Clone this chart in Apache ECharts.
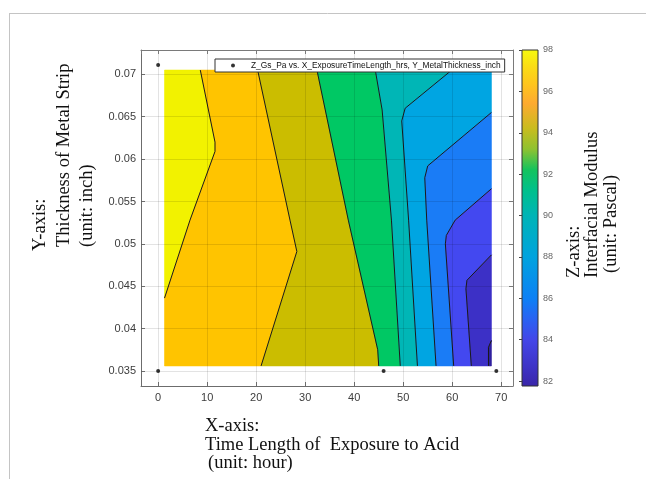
<!DOCTYPE html>
<html><head><meta charset="utf-8">
<script src="https://cdn.jsdelivr.net/npm/echarts@6/dist/echarts.min.js"></script>
<style>html,body{margin:0;padding:0;background:#fff}#c{width:646px;height:479px}</style>
</head><body><div id="c"></div>
<script>
// ---------- data ----------
const seriesName = 'Z_Gs_Pa vs. X_ExposureTimeLength_hrs, Y_MetalThickness_inch';
const sampleX = [0, 0, 46, 69];
const sampleY = [0.0711, 0.035, 0.035, 0.035];

// extent of the filled contour region
const regionX = [1.3, 68];
const regionY = [0.0356, 0.0705];

// contour lines [x (hour), y (inch)], from high Z (left) to low Z (right)
const contour1 = [[8.6,0.0705],[11.6,0.0620],[11.6,0.0609],[6.5,0.0528],[1.3,0.0436]];
const contour2 = [[20.3,0.0705],[26.9,0.0528],[28.3,0.0491],[21.0,0.0356]];
const contour3 = [[32.4,0.0705],[38.8,0.0528],[44.8,0.0375],[45.0,0.0356]];
const contour4 = [[44.3,0.0705],[45.7,0.0658],[47.6,0.0528],[49.4,0.0356]];
const contour5 = [[59.9,0.0705],[50.4,0.0660],[49.7,0.0645],[51.1,0.0528],[52.9,0.0356]];
const contour6 = [[68,0.0655],[55.0,0.0592],[54.4,0.0578],[54.8,0.0528],[56.7,0.0356]];
const contour7 = [[68,0.0565],[60.6,0.0528],[58.8,0.0510],[58.6,0.0500],[60.3,0.0356]];
const contour8 = [[68,0.0487],[63.0,0.0457],[62.8,0.0447],[63.9,0.0356]];
const contour9 = [[68,0.0386],[67.4,0.0378],[67.4,0.0356]];

// colour bar range and colormap
const cbMin = 81.76, cbMax = 98;
const cmapValues = [98, 97.2, 96.3, 95.4, 94.2, 93.2, 92.2, 91.2, 90, 88, 86, 85, 84, 82.5, 81.76];
const cmapColors = ['#F8FA0D','#FADD14','#FFC41E','#FDAA30','#C9BC1E','#8FC230','#14C35E','#00C08C','#00B4B6','#00A3DE','#0D80F5','#2A62F2','#4446E8','#3D30C0','#3A26A8'];

// fill colours of the contour bands (left to right)
const bandColors = ['#F2F200','#FFC400','#CBBD00','#00C864','#00B6B6','#00A5E2','#1A7CF6','#4348F0','#3C30C6','#30209E'];

// ---------- build band polygons ----------
const XMIN = regionX[0], XMAX = regionX[1], YMIN = regionY[0], YMAX = regionY[1];
const contours = [contour1,contour2,contour3,contour4,contour5,contour6,contour7,contour8,contour9];
function sOf(p){
  const u = (p[0]-XMIN)/(XMAX-XMIN), v = (p[1]-YMIN)/(YMAX-YMIN);
  if (Math.abs(v-1) < 1e-3 && u < 1-1e-3) return u;
  if (Math.abs(u-1) < 1e-3 && v > 1e-3) return 1 + (1-v);
  if (Math.abs(v) < 1e-3 && u > 1e-3) return 2 + (1-u);
  return 3 + v;
}
const cornerPt = {1:[XMAX,YMAX], 2:[XMAX,YMIN], 3:[XMIN,YMIN]};
function band(A, sA0, sA1, B, sB0, sB1){
  const pts = A.slice();
  [3,2,1].forEach(c => { if (c < sA1 && c > sB1) pts.push(cornerPt[c]); });
  B.slice().reverse().forEach(p => pts.push(p));
  [3,2,1].forEach(c => { if (c < sB0 && c > sA0) pts.push(cornerPt[c]); });
  return pts;
}
const bandPolys = [];
{
  const TL = [[XMIN,YMAX]], BR = [[XMAX,YMIN]];
  const c = contours;
  bandPolys.push(band(TL, 0, 4, c[0], sOf(c[0][0]), sOf(c[0][c[0].length-1])));
  for (let i = 0; i < c.length-1; i++) {
    const A = c[i], B = c[i+1];
    bandPolys.push(band(A, sOf(A[0]), sOf(A[A.length-1]), B, sOf(B[0]), sOf(B[B.length-1])));
  }
  const L = c[c.length-1];
  bandPolys.push(band(L, sOf(L[0]), sOf(L[L.length-1]), BR, 2, 2));
}

// ---------- chart ----------
const chart = echarts.init(document.getElementById('c'), null, {renderer:'canvas'});
const tickFont = {fontFamily:'Liberation Sans, Arial, sans-serif', fontSize:11, color:'#3c3c3c'};
const xMin = -3.5, xMax = 72.4, yMin = 0.03323, yMax = 0.07287;
const serif = 'Liberation Serif, Times New Roman, serif';
const titleStyle = (t) => ({text:t, font:'18.5px ' + serif, fill:'#111', align:'left', verticalAlign:'middle'});

const option = {
  animation:false,
  backgroundColor:'#fff',
  grid:[
    {left:141, top:50, width:372, height:336, show:false},
    {left:522, top:50, width:16, height:336, show:false}
  ],
  legend:{
    data:[seriesName], left:215, top:59, z:30,
    padding:[1,4,1,16], itemWidth:26, itemHeight:4, icon:'circle',
    borderColor:'#333', borderWidth:1, backgroundColor:'#fff',
    textStyle:{fontFamily:'Liberation Sans, Arial, sans-serif', fontSize:8.4, color:'#111', lineHeight:11}
  },
  xAxis:[
    {gridIndex:0, type:'value', min:xMin, max:xMax, splitNumber:8, position:'bottom',
     axisLine:{show:true, onZero:false, lineStyle:{color:'#7a7a7a'}},
     axisTick:{show:true, inside:true, length:4, lineStyle:{color:'#7a7a7a'}},
     axisLabel:Object.assign({margin:6, showMinLabel:false, showMaxLabel:false}, tickFont),
     splitLine:{show:false}},
    {gridIndex:0, type:'value', min:xMin, max:xMax, splitNumber:8, position:'top', z:10,
     axisLine:{show:true, onZero:false, lineStyle:{color:'#7a7a7a'}},
     axisTick:{show:true, inside:true, length:4, lineStyle:{color:'#7a7a7a'}},
     axisLabel:{show:false},
     splitLine:{show:true, lineStyle:{color:'rgba(0,0,0,0.11)', width:1}}},
    {gridIndex:1, type:'value', min:0, max:1, show:false}
  ],
  yAxis:[
    {gridIndex:0, type:'value', min:yMin, max:yMax, splitNumber:8, position:'left',
     axisLine:{show:true, onZero:false, lineStyle:{color:'#7a7a7a'}},
     axisTick:{show:true, inside:true, length:4, lineStyle:{color:'#7a7a7a'}},
     axisLabel:Object.assign({margin:5, showMinLabel:false, showMaxLabel:false}, tickFont),
     splitLine:{show:false}},
    {gridIndex:0, type:'value', min:yMin, max:yMax, splitNumber:8, position:'right', z:10,
     axisLine:{show:true, onZero:false, lineStyle:{color:'#7a7a7a'}},
     axisTick:{show:true, inside:true, length:4, lineStyle:{color:'#7a7a7a'}},
     axisLabel:{show:false},
     splitLine:{show:true, lineStyle:{color:'rgba(0,0,0,0.11)', width:1}}},
    {gridIndex:1, type:'value', min:cbMin, max:cbMax, splitNumber:8, position:'right', z:10,
     axisLine:{show:false},
     axisTick:{show:true, inside:true, length:3, lineStyle:{color:'#444'}},
     axisLabel:{margin:5, showMinLabel:false, fontFamily:'Liberation Sans, Arial, sans-serif', fontSize:9, color:'#666'},
     splitLine:{show:false}}
  ],
  series:[
    {type:'custom', name:'bands', xAxisIndex:0, yAxisIndex:0, z:1, silent:true,
     data: bandPolys.map((_, i) => [i]),
     renderItem:(params, api) => {
       const i = params.dataIndex;
       return {type:'polygon', shape:{points: bandPolys[i].map(p => api.coord(p))},
               style:{fill: bandColors[i], stroke: bandColors[i], lineWidth:0.6}};
     }},
    {type:'custom', name:'contours', xAxisIndex:0, yAxisIndex:0, z:2, silent:true,
     data: contours.map((_, i) => [i]),
     renderItem:(params, api) => {
       const i = params.dataIndex;
       return {type:'polyline', shape:{points: contours[i].map(p => api.coord(p))},
               style:{fill:null, stroke:'#1a1a1a', lineWidth:1}};
     }},
    {type:'scatter', name:seriesName, xAxisIndex:0, yAxisIndex:0, z:12,
     symbol:'circle', symbolSize:4, itemStyle:{color:'#000'},
     data: sampleX.map((x, i) => [x, sampleY[i]])},
    {type:'custom', name:'colorbar', xAxisIndex:2, yAxisIndex:2, z:2, silent:true,
     data:[[0]],
     renderItem:(params, api) => {
       const a = api.coord([0, cbMax]), b = api.coord([1, cbMin]);
       const stops = cmapValues.map((v, k) => ({offset:(cbMax - v)/(cbMax - cbMin), color:cmapColors[k]}));
       return {type:'rect', shape:{x:a[0], y:a[1], width:b[0]-a[0], height:b[1]-a[1]},
               style:{fill:new echarts.graphic.LinearGradient(0,0,0,1,stops), stroke:'#333', lineWidth:1}};
     }}
  ],
  graphic:[
    {type:'line', shape:{x1:9, y1:13.5, x2:646, y2:13.5}, style:{stroke:'#c4c4c4', lineWidth:1}, silent:true},
    {type:'line', shape:{x1:9.5, y1:13, x2:9.5, y2:479}, style:{stroke:'#c4c4c4', lineWidth:1}, silent:true},
    {type:'text', x:40.5, y:251, rotation:Math.PI/2, style:titleStyle('Y-axis:')},
    {type:'text', x:64, y:247, rotation:Math.PI/2, style:titleStyle('Thickness of Metal Strip')},
    {type:'text', x:87.5, y:247, rotation:Math.PI/2, style:titleStyle('(unit: inch)')},
    {type:'text', x:574, y:278, rotation:Math.PI/2, style:titleStyle('Z-axis:')},
    {type:'text', x:592, y:278, rotation:Math.PI/2, style:titleStyle('Interfacial Modulus')},
    {type:'text', x:611, y:273, rotation:Math.PI/2, style:titleStyle('(unit: Pascal)')},
    {type:'text', x:205, y:426, style:titleStyle('X-axis:')},
    {type:'text', x:205, y:445, style:titleStyle('Time Length of  Exposure to Acid')},
    {type:'text', x:208, y:463, style:titleStyle('(unit: hour)')}
  ]
};
chart.setOption(option);
</script>
</body></html>
